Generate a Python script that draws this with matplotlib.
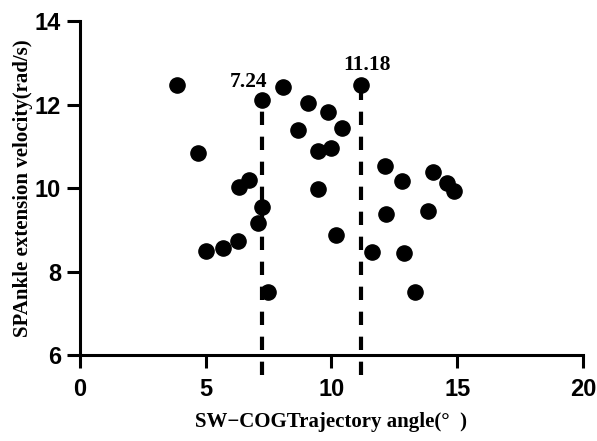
import numpy as np
import matplotlib.pyplot as plt

# === Data ===
angle = [3.86, 4.69, 5.00, 5.69, 6.29, 6.32, 6.72, 7.08, 7.24, 7.24, 7.48,
         8.07, 8.67, 9.07, 9.45, 9.47, 9.85, 9.98, 10.42, 11.18, 10.18,
         11.60, 12.88, 13.32, 12.13, 12.80, 12.17, 13.84, 14.04, 14.58, 14.87]
velocity = [12.47, 10.83, 8.50, 8.56, 8.73, 10.02, 10.19, 9.16, 9.55, 12.12, 7.50,
            12.42, 11.39, 12.05, 10.88, 9.98, 11.82, 10.96, 11.43, 12.46, 8.88,
            8.46, 8.45, 7.52, 10.52, 10.18, 9.38, 9.46, 10.39, 10.11, 9.94]
cut_x = [7.24, 11.18]
cut_top = [12.12, 12.46]
cut_labels = ['7.24', '11.18']
label_pos = [(6.72, 12.42), (11.41, 12.83)]

fig = plt.figure(figsize=(5.97, 4.41), dpi=100)
ax = fig.add_axes([0.134, 0.195, 0.8425, 0.757])

ax.scatter(angle, velocity, s=120, color='black', zorder=3, clip_on=False)

for x, top, lab, (lx, ly) in zip(cut_x, cut_top, cut_labels, label_pos):
    ax.plot([x, x], [5.52, top], color='black', lw=3,
            linestyle=(0, (3.2, 2.8)), clip_on=False, zorder=2)
    ax.text(lx, ly, lab, ha='center', va='baseline',
            fontsize=15.5, fontweight='bold', family='Liberation Serif')

ax.set_xlim(0, 20)
ax.set_ylim(6, 14)
ax.set_xticks([0, 5, 10, 15, 20])
ax.set_yticks([6, 8, 10, 12, 14])

for s in ['top', 'right']:
    ax.spines[s].set_visible(False)
for s in ['left', 'bottom']:
    ax.spines[s].set_linewidth(2.2)

ax.tick_params(axis='both', direction='out', length=9.5, width=2.2)
ax.tick_params(axis='x', pad=7)
ax.tick_params(axis='y', pad=4)
for lab in ax.get_xticklabels() + ax.get_yticklabels():
    lab.set_family('Liberation Sans')
    lab.set_fontweight('bold')
    lab.set_fontsize(17)

ax.set_xlabel('SW\u2212COGTrajectory angle(°  )', fontsize=15, fontweight='bold',
              family='Liberation Serif', labelpad=8)
ax.set_ylabel('SPAnkle extension velocity(rad/s)', fontsize=15, fontweight='bold',
              family='Liberation Serif', labelpad=1)

fig.savefig('out.png', dpi=100)
